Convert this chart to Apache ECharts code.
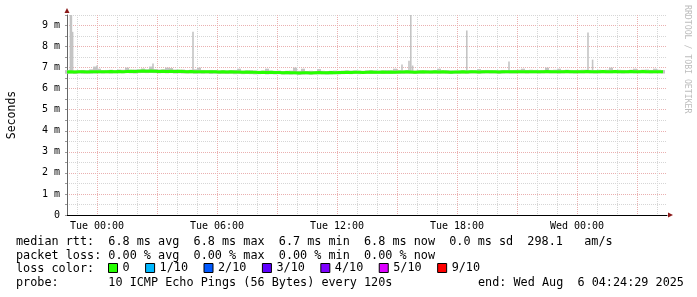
<!DOCTYPE html>
<html>
<head>
<meta charset="utf-8">
<script src="https://cdn.jsdelivr.net/npm/echarts@6/dist/echarts.min.js"></script>
<style>html,body{margin:0;padding:0;background:#fff}#chart{width:697px;height:297px}</style>
</head>
<body>
<div id="chart"></div>
<script>
// hours relative to Tue 00:00, one sample every 12 minutes
var startHour = -1.5;
var stepHour = 0.2;

// median rtt in ms
var medianRtt = [
  6.79, 6.80, 6.79, 6.80, 6.80, 6.79, 6.80, 6.81,
  6.81, 6.80, 6.81, 6.82, 6.81, 6.82, 6.81, 6.82,
  6.83, 6.82, 6.83, 6.84, 6.83, 6.84, 6.83, 6.82,
  6.83, 6.82, 6.83, 6.82, 6.83, 6.82, 6.81, 6.82, 6.81, 6.81,
  6.80, 6.81, 6.80, 6.80, 6.79, 6.80, 6.79, 6.80, 6.79, 6.79,
  6.78, 6.79, 6.78, 6.78, 6.77, 6.78, 6.77, 6.78, 6.77, 6.77,
  6.76, 6.77, 6.76, 6.76, 6.75, 6.76, 6.76, 6.75, 6.76, 6.77, 6.76, 6.76, 6.77, 6.76, 6.77,
  6.77, 6.78, 6.77, 6.78, 6.78, 6.77, 6.78, 6.79, 6.78, 6.78, 6.79, 6.78, 6.79, 6.78, 6.79,
  6.79, 6.80, 6.79, 6.78, 6.79, 6.80, 6.79, 6.79, 6.80, 6.79, 6.80, 6.79, 6.78, 6.79, 6.79,
  6.80, 6.79, 6.80, 6.80, 6.79, 6.80, 6.81, 6.80, 6.80, 6.79, 6.80, 6.81, 6.80, 6.80, 6.81,
  6.81, 6.80, 6.81, 6.81, 6.80, 6.81, 6.82, 6.81, 6.81, 6.80, 6.81, 6.82, 6.81, 6.80, 6.81,
  6.81, 6.82, 6.81, 6.80, 6.81, 6.82, 6.81, 6.81, 6.82, 6.81, 6.80, 6.81, 6.82, 6.81, 6.81,
  6.82, 6.81, 6.80, 6.81, 6.81, 6.80
];

// smoke (spread of the 10 pings) per sample, ms
var smokeLo = [
  6.71, 6.72, 6.70, 6.72, 6.71, 6.72, 6.71, 6.72, 6.73, 6.72,
  6.73, 6.72, 6.73, 6.74, 6.73, 6.74, 6.73, 6.72, 6.74, 6.75,
  6.74, 6.75, 6.74, 6.73, 6.74, 6.73, 6.74, 6.72, 6.73, 6.72,
  6.72, 6.73, 6.71, 6.72, 6.71, 6.72, 6.70, 6.71, 6.70, 6.71,
  6.70, 6.71, 6.69, 6.70, 6.69, 6.70, 6.69, 6.68, 6.69, 6.70,
  6.68, 6.69, 6.68, 6.69, 6.67, 6.68, 6.67, 6.68, 6.66, 6.67,
  6.68, 6.67, 6.68, 6.69, 6.68, 6.67, 6.68, 6.69, 6.68, 6.69,
  6.70, 6.69, 6.70, 6.69, 6.70, 6.71, 6.70, 6.70, 6.71, 6.70,
  6.71, 6.70, 6.71, 6.70, 6.71, 6.72, 6.71, 6.70, 6.71, 6.71,
  6.72, 6.71, 6.72, 6.71, 6.72, 6.71, 6.70, 6.71, 6.71, 6.72,
  6.71, 6.72, 6.72, 6.71, 6.72, 6.73, 6.72, 6.72, 6.71, 6.72,
  6.73, 6.72, 6.72, 6.73, 6.73, 6.72, 6.73, 6.73, 6.72, 6.73,
  6.74, 6.73, 6.73, 6.72, 6.73, 6.74, 6.73, 6.72, 6.73, 6.73,
  6.74, 6.73, 6.72, 6.73, 6.74, 6.73, 6.73, 6.74, 6.73, 6.72,
  6.73, 6.74, 6.73, 6.73, 6.74, 6.73, 6.72, 6.73, 6.73, 6.72
];
var smokeHi = [
  6.88, 6.90, 6.87, 6.88, 6.89, 6.88, 6.92, 7.05, 6.95, 6.88,
  6.89, 6.90, 6.88, 6.91, 6.90, 7.00, 6.90, 6.91, 6.92, 6.96,
  6.92, 7.05, 6.93, 6.91, 6.92, 7.00, 6.98, 6.91, 6.90, 6.91,
  6.89, 6.90, 6.92, 7.00, 6.89, 6.88, 6.89, 6.88, 6.87, 6.88,
  6.87, 6.88, 6.89, 6.95, 6.86, 6.87, 6.88, 6.86, 6.85, 6.86,
  6.95, 6.86, 6.85, 6.86, 6.84, 6.85, 6.86, 7.00, 6.85, 6.95,
  6.84, 6.85, 6.84, 6.93, 6.85, 6.84, 6.85, 6.86, 6.85, 6.86,
  6.87, 6.86, 6.87, 6.86, 6.85, 6.87, 6.88, 6.87, 6.86, 6.87,
  6.88, 6.87, 6.95, 6.88, 6.87, 6.88, 6.87, 6.86, 6.88, 6.87,
  6.88, 6.87, 6.88, 6.95, 6.87, 6.88, 6.87, 6.86, 6.87, 6.88,
  6.87, 6.88, 6.87, 6.93, 6.88, 6.89, 6.88, 6.87, 6.88, 6.89,
  6.88, 6.88, 6.89, 6.90, 6.95, 6.89, 6.90, 6.89, 6.88, 6.89,
  7.00, 6.89, 6.90, 6.95, 6.89, 6.90, 6.89, 6.88, 6.89, 6.90,
  6.90, 6.89, 6.88, 6.90, 6.89, 6.90, 7.00, 6.89, 6.90, 6.89,
  6.88, 6.90, 6.95, 6.89, 6.90, 6.91, 6.89, 6.95, 6.90, 6.88
];

// single slow pings: [hour, low ms, high ms]
var smokeSpikes = [
  [-1.33, 6.75, 9.5],
  [-1.28, 6.75, 9.5],
  [-1.22, 6.75, 8.7],
  [0.0, 6.75, 7.1],
  [2.8, 6.75, 7.2],
  [4.8, 6.75, 8.7],
  [15.25, 6.75, 7.15],
  [15.6, 6.75, 7.33],
  [15.69, 6.75, 9.5],
  [15.78, 6.75, 7.1],
  [18.49, 6.75, 8.76],
  [20.6, 6.75, 7.29],
  [24.55, 6.75, 8.67],
  [24.78, 6.75, 7.38]
];

var lossNames = ['0', '1/10', '2/10', '3/10', '4/10', '5/10', '9/10'];
var lossColors = ['#26ff00', '#00b8ff', '#0059ff', '#5e00ff', '#7e00ff', '#dd00ff', '#ff0000'];

var xLabels = [[0, 'Tue 00:00'], [6, 'Tue 06:00'], [12, 'Tue 12:00'], [18, 'Tue 18:00'], [24, 'Wed 00:00']];
var yLabels = ['0', '1 m', '2 m', '3 m', '4 m', '5 m', '6 m', '7 m', '8 m', '9 m'];

var statLines = [
  'median rtt:  6.8 ms avg  6.8 ms max  6.7 ms min  6.8 ms now  0.0 ms sd  298.1   am/s',
  'packet loss: 0.00 % avg  0.00 % max  0.00 % min  0.00 % now',
  'loss color:',
  'probe:       10 ICMP Echo Pings (56 Bytes) every 120s'
];
var endText = 'end: Wed Aug  6 04:24:29 2025';

var mono = '"DejaVu Sans Mono", monospace';
var smokeColor = '#c4c4c4';
var majorGrid = '#eab0b0';
var minorGrid = '#d6d6d6';

var medianData = medianRtt.map(function(v, i) { return [startHour + i * stepHour, v]; });
var bandData = smokeLo.map(function(v, i) { return [startHour + i * stepHour, v, smokeHi[i]]; });

function smokeRender(fixedWidth) {
  return function(params, api) {
    var top = api.coord([api.value(0), api.value(2)]);
    var bottom = api.coord([api.value(0), api.value(1)]);
    var w = fixedWidth || api.size([stepHour, 0])[0];
    return {
      type: 'rect',
      shape: { x: top[0] - w / 2, y: top[1], width: w, height: bottom[1] - top[1] },
      style: { fill: smokeColor }
    };
  };
}

var series = [
  {
    type: 'custom', name: 'smoke', renderItem: smokeRender(0),
    encode: { x: 0, y: [1, 2] }, data: bandData, z: 1, silent: true
  },
  {
    type: 'custom', name: 'spikes', renderItem: smokeRender(1.6),
    encode: { x: 0, y: [1, 2] }, data: smokeSpikes, z: 1, silent: true
  },
  {
    type: 'line', name: lossNames[0], data: medianData, step: 'middle',
    symbol: 'none', z: 3, color: lossColors[0],
    lineStyle: { color: lossColors[0], width: 3 }
  }
];
for (var k = 1; k < lossNames.length; k++) {
  series.push({ type: 'line', name: lossNames[k], data: [], color: lossColors[k] });
}

var texts = statLines.map(function(t, i) {
  return {
    type: 'text', x: 16, y: 242 + i * 13.7,
    style: { text: t, font: '11.8px ' + mono, fill: '#000', verticalAlign: 'middle' }
  };
});
texts.push({
  type: 'text', x: 478, y: 242 + 3 * 13.7,
  style: { text: endText, font: '11.8px ' + mono, fill: '#000', verticalAlign: 'middle' }
});
texts.push({
  type: 'text', x: 687, y: 5, rotation: -Math.PI / 2,
  style: { text: 'RRDTOOL / TOBI OETIKER', font: '8.2px ' + mono, fill: '#bdbdbd', verticalAlign: 'middle' }
});

var option = {
  animation: false,
  backgroundColor: '#fff',
  grid: { left: 67, right: 30, top: 15, bottom: 82, containLabel: false, outerBoundsMode: 'none' },
  legend: {
    left: 108, top: 262, padding: 0, itemWidth: 9, itemHeight: 9, itemGap: 15.5,
    icon: 'rect', selectedMode: false, data: lossNames,
    itemStyle: { borderColor: '#000', borderWidth: 1 },
    textStyle: { fontFamily: mono, fontSize: 11.8, color: '#000' }
  },
  xAxis: [
    {
      type: 'value', min: -1.5, max: 28.5, interval: 0.5,
      axisLine: { lineStyle: { color: '#000', width: 1 } },
      axisTick: { show: false },
      axisLabel: {
        interval: 0, margin: 6, fontFamily: mono, fontSize: 10, color: '#000',
        formatter: function(v) {
          for (var i = 0; i < xLabels.length; i++) if (xLabels[i][0] === v) return xLabels[i][1];
          return '';
        }
      },
      splitLine: {
        show: true,
        lineStyle: { type: [1, 1], width: 1, color: ['rgba(0,0,0,0)', minorGrid, 'rgba(0,0,0,0)', majorGrid, 'rgba(0,0,0,0)', minorGrid] }
      }
    },
    {
      type: 'value', min: -1.5, max: 28.5, position: 'bottom',
      axisLine: { show: true, symbol: ['none', 'triangle'], symbolSize: [5, 5], symbolOffset: [0, 3.5],
        lineStyle: { color: '#8b1a1a', width: 0 } },
      axisTick: { show: false }, axisLabel: { show: false }, splitLine: { show: false }
    }
  ],
  yAxis: [
    {
      type: 'value', min: 0, max: 9.5, interval: 0.5,
      name: 'Seconds', nameLocation: 'middle', nameGap: 49,
      nameTextStyle: { fontFamily: mono, fontSize: 11.5, color: '#000' },
      axisLine: { show: true, onZero: false, lineStyle: { color: '#666', width: 1 } },
      axisTick: { show: true, length: 2, lineStyle: { color: '#999' } },
      axisLabel: {
        interval: 0, margin: 7, fontFamily: mono, fontSize: 10, color: '#000',
        formatter: function(v) { return v % 1 === 0 ? yLabels[v] : ''; }
      },
      splitLine: {
        show: true,
        lineStyle: { type: [1, 1], width: 1, color: [majorGrid, minorGrid] }
      }
    },
    {
      type: 'value', min: 0, max: 9.5, position: 'left',
      axisLine: { show: true, onZero: false, symbol: ['none', 'triangle'], symbolSize: [5, 5], symbolOffset: [0, 4.5],
        lineStyle: { color: '#8b1a1a', width: 0 } },
      axisTick: { show: false }, axisLabel: { show: false }, splitLine: { show: false }
    }
  ],
  graphic: texts,
  series: series
};

var myChart = echarts.init(document.getElementById('chart'));
myChart.setOption(option);
</script>
</body>
</html>
